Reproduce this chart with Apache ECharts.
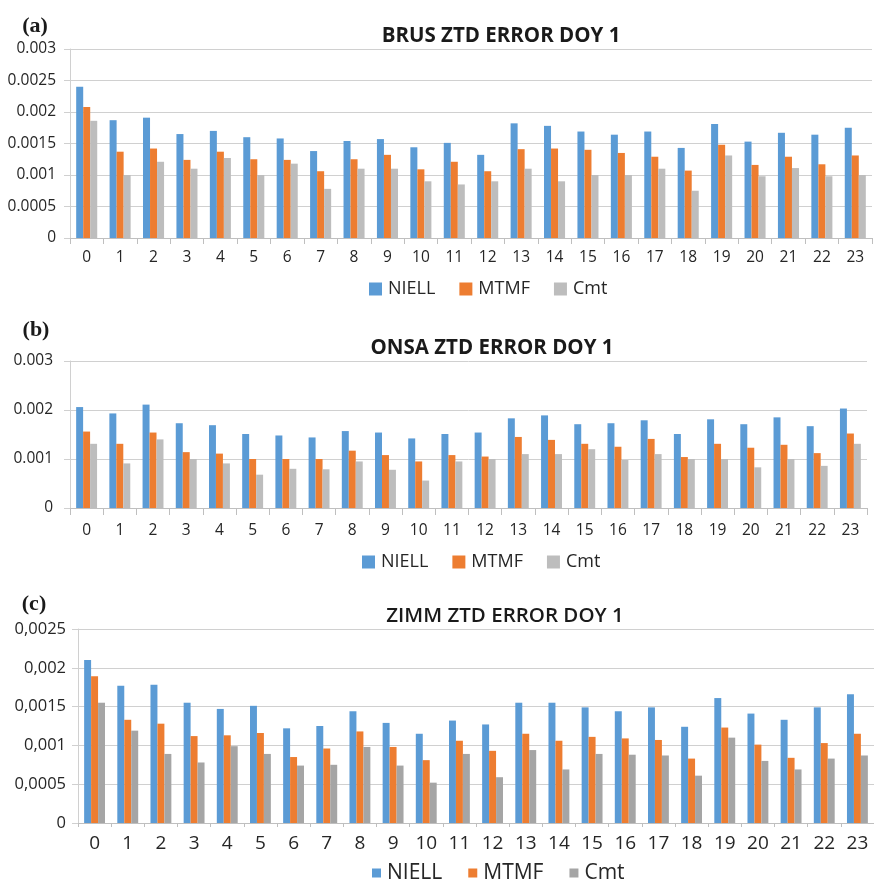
<!DOCTYPE html>
<html>
<head>
<meta charset="utf-8">
<script src="https://cdn.jsdelivr.net/npm/echarts@6/dist/echarts.min.js"></script>
<style>
  html, body { margin: 0; padding: 0; background: #ffffff; }
  #chart { width: 874px; height: 882px; }
</style>
</head>
<body>
<div id="chart"></div>
<script>
// Hour of day (categories shared by all three stations)
const hours = ['0','1','2','3','4','5','6','7','8','9','10','11','12','13','14','15','16','17','18','19','20','21','22','23'];
const seriesNames = ['NIELL', 'MTMF', 'Cmt'];

// BRUS station, ZTD error, DOY 1
const brusNiell = [0.00240,0.00187,0.00191,0.00165,0.00170,0.00160,0.00158,0.00138,0.00154,0.00157,0.00144,0.00151,0.00132,0.00182,0.00178,0.00169,0.00164,0.00169,0.00143,0.00181,0.00153,0.00167,0.00164,0.00175];
const brusMtmf  = [0.00208,0.00137,0.00142,0.00124,0.00137,0.00125,0.00124,0.00106,0.00125,0.00132,0.00109,0.00121,0.00106,0.00141,0.00142,0.00140,0.00135,0.00129,0.00107,0.00148,0.00116,0.00129,0.00117,0.00131];
const brusCmt   = [0.00186,0.00100,0.00121,0.00110,0.00127,0.00100,0.00118,0.00078,0.00110,0.00110,0.00090,0.00085,0.00090,0.00110,0.00090,0.00100,0.00100,0.00110,0.00075,0.00131,0.00098,0.00111,0.00098,0.00100];

// ONSA station, ZTD error, DOY 1
const onsaNiell = [0.00206,0.00193,0.00211,0.00173,0.00169,0.00151,0.00148,0.00144,0.00157,0.00154,0.00142,0.00151,0.00154,0.00183,0.00189,0.00171,0.00173,0.00179,0.00151,0.00181,0.00171,0.00185,0.00167,0.00203];
const onsaMtmf  = [0.00156,0.00131,0.00154,0.00114,0.00111,0.00100,0.00100,0.00100,0.00117,0.00108,0.00095,0.00108,0.00105,0.00145,0.00139,0.00131,0.00125,0.00141,0.00104,0.00131,0.00123,0.00129,0.00112,0.00152];
const onsaCmt   = [0.00131,0.00091,0.00140,0.00100,0.00091,0.00068,0.00080,0.00079,0.00095,0.00078,0.00056,0.00095,0.00100,0.00110,0.00110,0.00120,0.00098,0.00110,0.00100,0.00100,0.00083,0.00100,0.00086,0.00131];

// ZIMM station, ZTD error, DOY 1
const zimmNiell = [0.00210,0.00177,0.00178,0.00155,0.00147,0.00151,0.00122,0.00125,0.00144,0.00129,0.00115,0.00132,0.00127,0.00155,0.00155,0.00149,0.00144,0.00149,0.00124,0.00161,0.00141,0.00133,0.00149,0.00166];
const zimmMtmf  = [0.00189,0.00133,0.00128,0.00112,0.00113,0.00116,0.00085,0.00096,0.00118,0.00098,0.00081,0.00106,0.00093,0.00115,0.00106,0.00111,0.00109,0.00107,0.00083,0.00123,0.00101,0.00084,0.00103,0.00115];
const zimmCmt   = [0.00155,0.00119,0.00089,0.00078,0.00099,0.00089,0.00074,0.00075,0.00098,0.00074,0.00052,0.00089,0.00059,0.00094,0.00069,0.00089,0.00088,0.00087,0.00061,0.00110,0.00080,0.00069,0.00083,0.00087];

const colors = { NIELL: '#5b9bd5', MTMF: '#ed7d31', Cmt: '#bdbdbd' };
const colorsZimm = { NIELL: '#5b9bd5', MTMF: '#ed7d31', Cmt: '#a5a5a5' };

const FONT = '"Open Sans", "Noto Sans", sans-serif';
const LABEL_COLOR = '#262626';

const panels = [
  { letter: '(a)', title: 'BRUS ZTD ERROR DOY 1', data: [brusNiell, brusMtmf, brusCmt], palette: colors,
    grid: { left: 70, top: 49, width: 802, height: 189 },
    y: { max: 0.003, interval: 0.0005, sep: '.', margin: 14 },
    fs: { y: 15.5, x: 15.5, legend: 18, title: 20.5 }, xMargin: 12, tick: 6,
    letterPos: [30, 22], titlePos: [496, 33], legendPos: [364, 286], legendIcon: 13, legendGap: 24, titleWeight: 'bold' },
  { letter: '(b)', title: 'ONSA ZTD ERROR DOY 1', data: [onsaNiell, onsaMtmf, onsaCmt], palette: colors,
    grid: { left: 70, top: 361, width: 797, height: 147 },
    y: { max: 0.003, interval: 0.001, sep: '.', margin: 17 },
    fs: { y: 15.5, x: 15.5, legend: 18, title: 20.5 }, xMargin: 15, tick: 7,
    letterPos: [31, 326], titlePos: [487, 345], legendPos: [357, 559], legendIcon: 13, legendGap: 24, titleWeight: 'bold' },
  { letter: '(c)', title: 'ZIMM ZTD ERROR DOY 1', data: [zimmNiell, zimmMtmf, zimmCmt], palette: colorsZimm,
    grid: { left: 78, top: 629, width: 796, height: 194 },
    y: { max: 0.0025, interval: 0.0005, sep: ',', margin: 12 },
    fs: { y: 16.5, x: 19, legend: 21, title: 20.5 }, xMargin: 11, tick: 4,
    letterPos: [29, 600], titlePos: [500, 613], legendPos: [367, 870], legendIcon: 9, legendGap: 26, titleWeight: 600 }
];

const option = {
  backgroundColor: '#ffffff',
  animation: false,
  title: [], grid: [], xAxis: [], yAxis: [], legend: [], series: []
};

panels.forEach((p, i) => {
  option.title.push({
    text: p.letter, left: p.letterPos[0], top: p.letterPos[1] - 12, textAlign: 'center',
    textStyle: { fontFamily: '"Liberation Serif", "DejaVu Serif", serif', fontWeight: 'bold', fontSize: 22, color: '#1a1a1a' }
  });
  option.title.push({
    text: p.title, left: p.titlePos[0], top: p.titlePos[1] - p.fs.title / 2 - 2, textAlign: 'center',
    textStyle: { fontFamily: FONT, fontWeight: p.titleWeight, fontSize: p.fs.title, color: '#1a1a1a' }
  });
  option.grid.push(Object.assign({ containLabel: false }, p.grid));
  option.xAxis.push({
    type: 'category', gridIndex: i, data: hours,
    axisLine: { lineStyle: { color: '#bfbfbf', width: 1 } },
    axisTick: { show: true, alignWithLabel: false, length: p.tick, lineStyle: { color: '#bfbfbf' } },
    axisLabel: { margin: p.xMargin, fontFamily: FONT, fontSize: p.fs.x, color: LABEL_COLOR, interval: 0 },
    splitLine: { show: false }
  });
  option.yAxis.push({
    type: 'value', gridIndex: i, min: 0, max: p.y.max, interval: p.y.interval,
    axisLine: { show: true, lineStyle: { color: '#d0d0d0', width: 1 } },
    axisTick: { show: true, length: 6, lineStyle: { color: '#d0d0d0' } },
    axisLabel: {
      margin: p.y.margin, fontFamily: FONT, fontSize: p.fs.y, color: LABEL_COLOR,
      formatter: v => String(+v.toFixed(4)).replace('.', p.y.sep)
    },
    splitLine: { show: true, lineStyle: { color: '#d0d0d0', width: 1 } }
  });
  option.legend.push({
    left: p.legendPos[0], top: p.legendPos[1] - p.fs.legend / 2 - 2,
    icon: 'rect', itemWidth: p.legendIcon, itemHeight: p.legendIcon, itemGap: p.legendGap,
    textStyle: { fontFamily: FONT, fontSize: p.fs.legend, color: LABEL_COLOR, padding: [0, 0, 0, 1] },
    data: seriesNames.map(n => ({ name: n, itemStyle: { color: p.palette[n] } })),
    selectedMode: false
  });
  seriesNames.forEach((n, k) => {
    option.series.push({
      name: n, type: 'bar', xAxisIndex: i, yAxisIndex: i,
      data: p.data[k],
      barGap: '0%', barCategoryGap: '37%',
      itemStyle: { color: p.palette[n] },
      emphasis: { disabled: true }
    });
  });
});

const chart = echarts.init(document.getElementById('chart'), null, { renderer: 'canvas' });
chart.setOption(option);
</script>
</body>
</html>
